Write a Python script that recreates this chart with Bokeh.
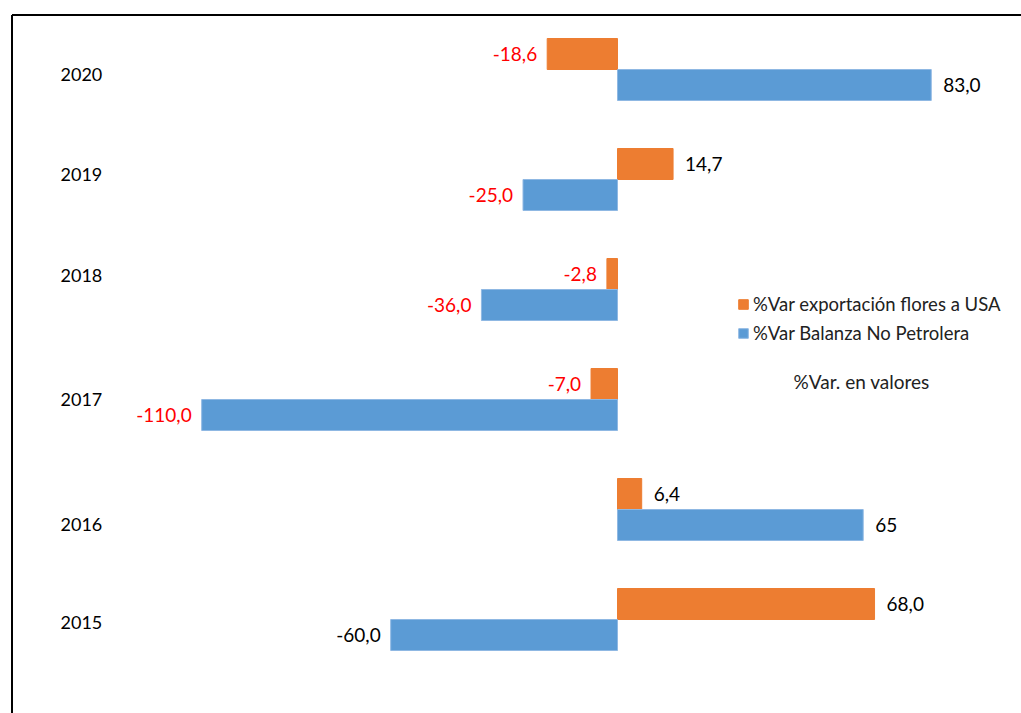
from bokeh.plotting import figure
from bokeh.models import ColumnDataSource, Range1d, Legend, LegendItem, Label
from bokeh.transform import dodge
from bokeh.core.properties import value
from bokeh.embed import file_html
from bokeh.resources import INLINE

# ---- data ----
years = [2020, 2019, 2018, 2017, 2016, 2015]
flores = [-18.6, 14.7, -2.8, -7.0, 6.4, 68.0]
balanza = [83.0, -25.0, -36.0, -110.0, 65.0, -60.0]
flores_labels = ["-18,6", "14,7", "-2,8", "-7,0", "6,4", "68,0"]
balanza_labels = ["83,0", "-25,0", "-36,0", "-110,0", "65", "-60,0"]
series_names = ["%Var exportación flores a USA", "%Var Balanza No Petrolera"]
note_text = "%Var. en valores"

# ---- style ----
ORANGE = "#ED7D31"
BLUE = "#5B9BD5"
RED = "#FF0000"
FONT = "Lato"
W, H = 1021, 713
PX_X = 3.78          # pixels per unit on x
PX_Y = 110.0         # pixels per category
ZERO_PX = 617        # pixel column of x = 0
BASE_PX = 619        # pixel row of the first category
X0 = -ZERO_PX / PX_X
X1 = (W - ZERO_PX) / PX_X
Y1 = BASE_PX / PX_Y
Y0 = (BASE_PX - H) / PX_Y
BAR_H = 31 / PX_Y
GAP_POS = 12
GAP_NEG = 10
year_label_dy_px = [5, -5, -14, 0, 15, 3]

ypos = [y - min(years) for y in years]

def lab_color(v, txt):
    if txt == "-60,0":
        return "black"
    return RED if v < 0 else "black"

src = ColumnDataSource(dict(
    y=ypos,
    flores=flores,
    balanza=balanza,
    fl=flores_labels,
    bl=balanza_labels,
    fl_align=["right" if v < 0 else "left" for v in flores],
    bl_align=["right" if v < 0 else "left" for v in balanza],
    fl_off=[-GAP_NEG if v < 0 else GAP_POS for v in flores],
    bl_off=[-GAP_NEG if v < 0 else GAP_POS for v in balanza],
    fl_col=[lab_color(v, t) for v, t in zip(flores, flores_labels)],
    bl_col=[lab_color(v, t) for v, t in zip(balanza, balanza_labels)],
    ylab=[str(y) for y in years],
    ylab_y=[p - d / PX_Y for p, d in zip(ypos, year_label_dy_px)],
    xlab=[X0] * len(years),
))

p = figure(width=W, height=H, output_backend="svg", toolbar_location=None,
           x_range=Range1d(X0, X1), y_range=Range1d(Y0, Y1),
           x_axis_location=None, y_axis_location=None,
           min_border=0, outline_line_color=None)
p.xgrid.visible = False
p.ygrid.visible = False

# chart-area frame (top and left edges only)
fx = X0 + 11.5 / PX_X
fy = Y1 - 14.5 / PX_Y
p.segment(x0=[fx, fx], y0=[fy, fy], x1=[X1 + 5, fx], y1=[fy, Y0 - 1],
          line_color="black", line_width=2)

r_or = p.hbar(y=dodge("y", BAR_H / 2, range=p.y_range), left=0, right="flores",
              height=BAR_H, source=src, fill_color=ORANGE, line_color=ORANGE, line_width=1)
r_bl = p.hbar(y=dodge("y", -BAR_H / 2, range=p.y_range), left=0, right="balanza",
              height=BAR_H, source=src, fill_color=BLUE, line_color="#8FB8E3", line_width=1)

p.text(x="flores", y=dodge("y", BAR_H / 2, range=p.y_range), text="fl", source=src,
       x_offset="fl_off", text_align="fl_align", text_baseline="middle",
       text_color="fl_col", text_font=value(FONT), text_font_size="19px")
p.text(x="balanza", y=dodge("y", -BAR_H / 2, range=p.y_range), text="bl", source=src,
       x_offset="bl_off", text_align="bl_align", text_baseline="middle",
       text_color="bl_col", text_font=value(FONT), text_font_size="19px")

# year labels
p.text(x="xlab", y="ylab_y", text="ylab", source=src, x_offset=60,
       text_align="left", text_baseline="middle", text_color="black",
       text_font=value(FONT), text_font_size="18px")

legend = Legend(items=[LegendItem(label=series_names[0], renderers=[r_or]),
                       LegendItem(label=series_names[1], renderers=[r_bl])],
                location=(737, 367), orientation="vertical",
                glyph_width=12, glyph_height=12, label_height=26, spacing=3,
                label_standoff=4, padding=0, margin=0,
                border_line_color=None, background_fill_alpha=0,
                label_text_font=FONT, label_text_font_size="18.5px", label_text_color="#222222")
p.add_layout(legend)

p.add_layout(Label(x=X0 + 793 / PX_X, y=Y1 - 381 / PX_Y, text=note_text,
                   text_baseline="middle", text_align="left", text_font=FONT,
                   text_font_size="19px", text_color="#222222"))

open("out.html", "w").write(file_html(p, INLINE))
